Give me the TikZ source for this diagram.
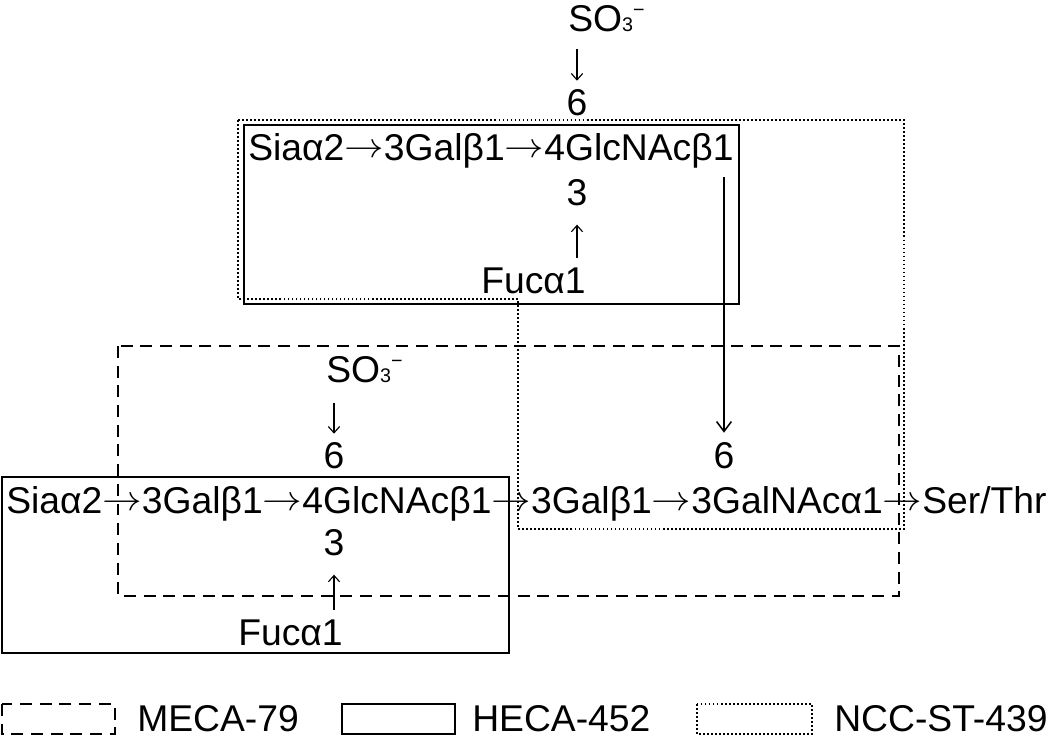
\documentclass[tikz,border=0pt]{standalone}
\usepackage{fontspec}
\setmainfont{Liberation Sans}
\usetikzlibrary{arrows.meta}
\newcommand{\sulfate}{SO{\fontsize{14pt}{14pt}\selectfont 3}\raisebox{10pt}[0pt][0pt]{\fontsize{14pt}{14pt}\selectfont −}}
\newcommand{\lnk}{\raisebox{1.5pt}{\scalebox{1.13}[1]{$\rightarrow$}}}

\begin{document}
\begin{tikzpicture}[x=0.025cm, y=-0.025cm,
        sugar/.style={font=\fontsize{26.5pt}{30pt}\selectfont, inner sep=0pt},
        link/.style={-{Straight Barb[length=4.5pt,width=8pt]}, line width=0.8pt},
        longlink/.style={-{Straight Barb[length=7pt,width=10.5pt]}, line width=1.1pt},
        heca/.style={line width=1.6pt},
        meca/.style={line width=1.8pt, dash pattern=on 8.5pt off 5.5pt},
        ncc/.style={line width=1.5pt, dash pattern=on 1.3pt off 1.55pt}
    ]
        \useasboundingbox (0,0) rectangle (1050,738);

        % Upper chain
        \node[sugar, anchor=base west] (so3t) at (568,31) {\sulfate};
        \node[sugar, anchor=base] (sixt) at (577,115) {6};
        \node[sugar, anchor=base west] (chaint) at (248,160) {Siaα2\lnk 3Galβ1\lnk 4GlcNAcβ1};
        \node[sugar, anchor=base] (threet) at (577,205) {3};
        \node[sugar, anchor=base east] (fuct) at (586,293) {Fucα1};

        \draw[link, shorten <=0.425cm, shorten >=0.2cm] (so3t.south -| sixt) -- (sixt.north);
        \draw[link, shorten <=0.225cm, shorten >=0.475cm] (fuct.north -| threet) -- (threet.south);

        % Lower chain
        \node[sugar, anchor=base west] (so3b) at (326,382) {\sulfate};
        \node[sugar, anchor=base] (sixb) at (334,468) {6};
        \node[sugar, anchor=base] (sixc) at (724,468) {6};
        \node[sugar, anchor=base west] (chainb) at (6,513) {Siaα2\lnk 3Galβ1\lnk 4GlcNAcβ1\lnk 3Galβ1\lnk 3GalNAcα1\lnk Ser/Thr};
        \node[sugar, anchor=base] (threeb) at (334,555) {3};
        \node[sugar, anchor=base east] (fucb) at (343,645) {Fucα1};

        \draw[link, shorten <=0.5cm, shorten >=0.2cm] (so3b.south -| sixb) -- (sixb.north);
        \draw[link, shorten <=0.225cm, shorten >=0.475cm] (fucb.north -| threeb) -- (threeb.south);
        \draw[longlink, shorten <=0.225cm, shorten >=0.225cm] (sixc |- chaint.south) -- (sixc.north);

        % Epitope boxes
        \draw[heca] (244,125) rectangle (739,304);
        \draw[heca] (2,477) rectangle (509,653);
        \draw[meca] (118,346) rectangle (899,596);
        \draw[ncc] (238,120) -- (904,120) -- (904,529) -- (518,529) -- (518,299) -- (238,299) -- cycle;

        % Legend
        \draw[meca] (2,704) rectangle (115,734);
        \node[sugar, anchor=base west] (leg1) at (137,731) {MECA-79};
        \draw[heca] (342,704) rectangle (455,734);
        \node[sugar, anchor=base west] (leg2) at (472,731) {HECA-452};
        \draw[ncc] (697,704) rectangle (812,734);
        \node[sugar, anchor=base west] (leg3) at (834,731) {NCC-ST-439};
    \end{tikzpicture}
\end{document}
